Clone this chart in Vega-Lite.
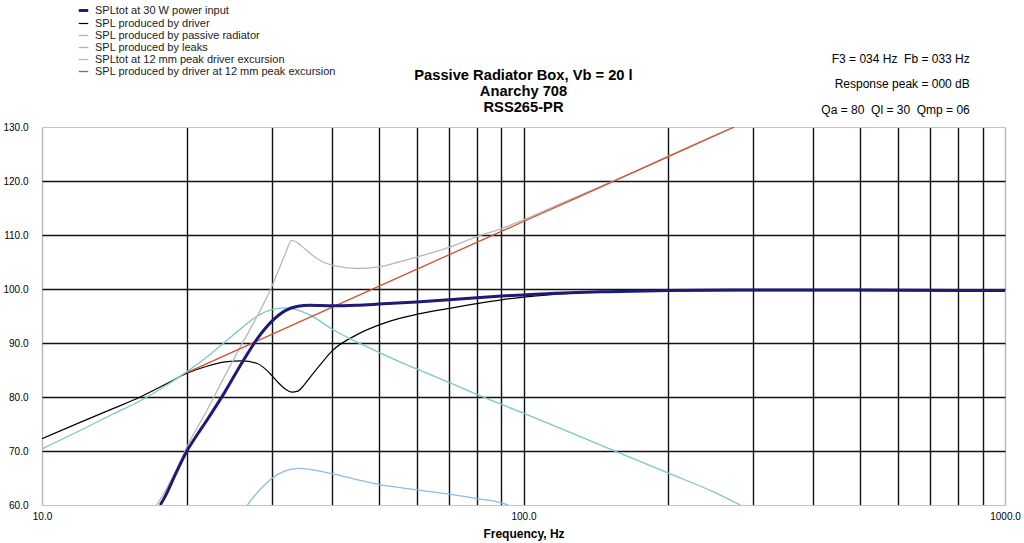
{
  "$schema": "https://vega.github.io/schema/vega-lite/v6.json",
  "width": 963,
  "height": 378,
  "autosize": {"type": "none"},
  "padding": {"left": 42, "top": 127, "right": 19, "bottom": 38},
  "background": "white",
  "config": {
    "font": "Liberation Sans",
    "view": {"stroke": "#b8b8b8", "strokeWidth": 1}
  },
  "data": {
    "values": [
      {"s": "SPL produced by driver", "f": 10, "db": 72.3},
      {"s": "SPL produced by driver", "f": 12, "db": 75.3},
      {"s": "SPL produced by driver", "f": 14, "db": 77.8},
      {"s": "SPL produced by driver", "f": 16, "db": 80},
      {"s": "SPL produced by driver", "f": 18, "db": 82.3},
      {"s": "SPL produced by driver", "f": 20, "db": 84.4},
      {"s": "SPL produced by driver", "f": 22, "db": 85.7},
      {"s": "SPL produced by driver", "f": 24, "db": 86.5},
      {"s": "SPL produced by driver", "f": 26, "db": 86.7},
      {"s": "SPL produced by driver", "f": 28, "db": 86.2},
      {"s": "SPL produced by driver", "f": 29, "db": 85.3},
      {"s": "SPL produced by driver", "f": 30, "db": 84},
      {"s": "SPL produced by driver", "f": 31, "db": 82.6},
      {"s": "SPL produced by driver", "f": 32, "db": 81.5},
      {"s": "SPL produced by driver", "f": 33, "db": 80.9},
      {"s": "SPL produced by driver", "f": 34, "db": 81.1},
      {"s": "SPL produced by driver", "f": 35, "db": 82.2},
      {"s": "SPL produced by driver", "f": 36, "db": 83.6},
      {"s": "SPL produced by driver", "f": 38, "db": 86.2},
      {"s": "SPL produced by driver", "f": 40, "db": 88.5},
      {"s": "SPL produced by driver", "f": 45, "db": 91.5},
      {"s": "SPL produced by driver", "f": 50, "db": 93.3},
      {"s": "SPL produced by driver", "f": 55, "db": 94.5},
      {"s": "SPL produced by driver", "f": 60, "db": 95.3},
      {"s": "SPL produced by driver", "f": 70, "db": 96.4},
      {"s": "SPL produced by driver", "f": 80, "db": 97.3},
      {"s": "SPL produced by driver", "f": 90, "db": 98},
      {"s": "SPL produced by driver", "f": 100, "db": 98.5},
      {"s": "SPL produced by driver", "f": 125, "db": 99.2},
      {"s": "SPL produced by driver", "f": 150, "db": 99.5},
      {"s": "SPL produced by driver", "f": 200, "db": 99.7},
      {"s": "SPL produced by driver", "f": 1000, "db": 99.7},

      {"s": "SPL produced by passive radiator", "f": 10, "db": 70.4},
      {"s": "SPL produced by passive radiator", "f": 12, "db": 73.8},
      {"s": "SPL produced by passive radiator", "f": 14, "db": 76.8},
      {"s": "SPL produced by passive radiator", "f": 16, "db": 79.3},
      {"s": "SPL produced by passive radiator", "f": 18, "db": 82},
      {"s": "SPL produced by passive radiator", "f": 20, "db": 84.7},
      {"s": "SPL produced by passive radiator", "f": 22, "db": 87.4},
      {"s": "SPL produced by passive radiator", "f": 24, "db": 90.2},
      {"s": "SPL produced by passive radiator", "f": 26, "db": 92.8},
      {"s": "SPL produced by passive radiator", "f": 28, "db": 95},
      {"s": "SPL produced by passive radiator", "f": 30, "db": 96.2},
      {"s": "SPL produced by passive radiator", "f": 32, "db": 96.5},
      {"s": "SPL produced by passive radiator", "f": 34, "db": 96.1},
      {"s": "SPL produced by passive radiator", "f": 36, "db": 95.2},
      {"s": "SPL produced by passive radiator", "f": 40, "db": 92.6},
      {"s": "SPL produced by passive radiator", "f": 45, "db": 90.2},
      {"s": "SPL produced by passive radiator", "f": 50, "db": 88.3},
      {"s": "SPL produced by passive radiator", "f": 55, "db": 86.6},
      {"s": "SPL produced by passive radiator", "f": 60, "db": 85.2},
      {"s": "SPL produced by passive radiator", "f": 70, "db": 82.7},
      {"s": "SPL produced by passive radiator", "f": 80, "db": 80.5},
      {"s": "SPL produced by passive radiator", "f": 100, "db": 77},
      {"s": "SPL produced by passive radiator", "f": 150, "db": 70.5},
      {"s": "SPL produced by passive radiator", "f": 200, "db": 65.9},
      {"s": "SPL produced by passive radiator", "f": 250, "db": 62.3},
      {"s": "SPL produced by passive radiator", "f": 282, "db": 60},

      {"s": "SPL produced by leaks", "f": 26.7, "db": 60},
      {"s": "SPL produced by leaks", "f": 28, "db": 62.3},
      {"s": "SPL produced by leaks", "f": 29, "db": 63.7},
      {"s": "SPL produced by leaks", "f": 30, "db": 64.9},
      {"s": "SPL produced by leaks", "f": 32, "db": 66.3},
      {"s": "SPL produced by leaks", "f": 34, "db": 66.8},
      {"s": "SPL produced by leaks", "f": 36, "db": 66.6},
      {"s": "SPL produced by leaks", "f": 40, "db": 65.8},
      {"s": "SPL produced by leaks", "f": 45, "db": 64.7},
      {"s": "SPL produced by leaks", "f": 50, "db": 63.8},
      {"s": "SPL produced by leaks", "f": 60, "db": 62.8},
      {"s": "SPL produced by leaks", "f": 70, "db": 62},
      {"s": "SPL produced by leaks", "f": 80, "db": 61.2},
      {"s": "SPL produced by leaks", "f": 90, "db": 60.4},
      {"s": "SPL produced by leaks", "f": 93, "db": 60},

      {"s": "SPLtot at 12 mm peak driver excursion", "f": 17.3, "db": 60},
      {"s": "SPLtot at 12 mm peak driver excursion", "f": 18, "db": 62.5},
      {"s": "SPLtot at 12 mm peak driver excursion", "f": 19, "db": 66.5},
      {"s": "SPLtot at 12 mm peak driver excursion", "f": 20, "db": 70.8},
      {"s": "SPLtot at 12 mm peak driver excursion", "f": 22, "db": 77.5},
      {"s": "SPLtot at 12 mm peak driver excursion", "f": 24, "db": 84},
      {"s": "SPLtot at 12 mm peak driver excursion", "f": 26, "db": 89.8},
      {"s": "SPLtot at 12 mm peak driver excursion", "f": 28, "db": 95},
      {"s": "SPLtot at 12 mm peak driver excursion", "f": 30, "db": 100.4},
      {"s": "SPLtot at 12 mm peak driver excursion", "f": 31, "db": 103.5},
      {"s": "SPLtot at 12 mm peak driver excursion", "f": 32, "db": 106.5},
      {"s": "SPLtot at 12 mm peak driver excursion", "f": 33, "db": 109},
      {"s": "SPLtot at 12 mm peak driver excursion", "f": 34, "db": 108.5},
      {"s": "SPLtot at 12 mm peak driver excursion", "f": 35, "db": 107.6},
      {"s": "SPLtot at 12 mm peak driver excursion", "f": 37, "db": 105.8},
      {"s": "SPLtot at 12 mm peak driver excursion", "f": 40, "db": 104.4},
      {"s": "SPLtot at 12 mm peak driver excursion", "f": 45, "db": 103.8},
      {"s": "SPLtot at 12 mm peak driver excursion", "f": 50, "db": 104.1},
      {"s": "SPLtot at 12 mm peak driver excursion", "f": 55, "db": 105},
      {"s": "SPLtot at 12 mm peak driver excursion", "f": 60, "db": 105.9},
      {"s": "SPLtot at 12 mm peak driver excursion", "f": 70, "db": 107.7},
      {"s": "SPLtot at 12 mm peak driver excursion", "f": 80, "db": 109.7},
      {"s": "SPLtot at 12 mm peak driver excursion", "f": 90, "db": 111.2},
      {"s": "SPLtot at 12 mm peak driver excursion", "f": 100, "db": 112.8},
      {"s": "SPLtot at 12 mm peak driver excursion", "f": 120, "db": 115.9},
      {"s": "SPLtot at 12 mm peak driver excursion", "f": 150, "db": 119.6},
      {"s": "SPLtot at 12 mm peak driver excursion", "f": 200, "db": 124.6},
      {"s": "SPLtot at 12 mm peak driver excursion", "f": 250, "db": 128.5},
      {"s": "SPLtot at 12 mm peak driver excursion", "f": 274, "db": 130},

      {"s": "SPL produced by driver at 12 mm peak excursion", "f": 20, "db": 84.5},
      {"s": "SPL produced by driver at 12 mm peak excursion", "f": 30, "db": 91.6},
      {"s": "SPL produced by driver at 12 mm peak excursion", "f": 50, "db": 100.5},
      {"s": "SPL produced by driver at 12 mm peak excursion", "f": 100, "db": 112.5},
      {"s": "SPL produced by driver at 12 mm peak excursion", "f": 200, "db": 124.5},
      {"s": "SPL produced by driver at 12 mm peak excursion", "f": 274, "db": 130},

      {"s": "SPLtot at 30 W power input", "f": 17.6, "db": 60},
      {"s": "SPLtot at 30 W power input", "f": 18, "db": 61.5},
      {"s": "SPLtot at 30 W power input", "f": 19, "db": 66},
      {"s": "SPLtot at 30 W power input", "f": 20, "db": 70},
      {"s": "SPLtot at 30 W power input", "f": 21, "db": 73},
      {"s": "SPLtot at 30 W power input", "f": 22, "db": 75.7},
      {"s": "SPLtot at 30 W power input", "f": 24, "db": 81},
      {"s": "SPLtot at 30 W power input", "f": 26, "db": 86.3},
      {"s": "SPLtot at 30 W power input", "f": 28, "db": 90.8},
      {"s": "SPLtot at 30 W power input", "f": 30, "db": 94},
      {"s": "SPLtot at 30 W power input", "f": 32, "db": 96},
      {"s": "SPLtot at 30 W power input", "f": 34, "db": 96.8},
      {"s": "SPLtot at 30 W power input", "f": 36, "db": 97},
      {"s": "SPLtot at 30 W power input", "f": 40, "db": 96.9},
      {"s": "SPLtot at 30 W power input", "f": 45, "db": 97},
      {"s": "SPLtot at 30 W power input", "f": 50, "db": 97.2},
      {"s": "SPLtot at 30 W power input", "f": 60, "db": 97.6},
      {"s": "SPLtot at 30 W power input", "f": 70, "db": 98},
      {"s": "SPLtot at 30 W power input", "f": 80, "db": 98.4},
      {"s": "SPLtot at 30 W power input", "f": 90, "db": 98.7},
      {"s": "SPLtot at 30 W power input", "f": 100, "db": 98.9},
      {"s": "SPLtot at 30 W power input", "f": 125, "db": 99.3},
      {"s": "SPLtot at 30 W power input", "f": 150, "db": 99.5},
      {"s": "SPLtot at 30 W power input", "f": 200, "db": 99.7},
      {"s": "SPLtot at 30 W power input", "f": 300, "db": 99.8},
      {"s": "SPLtot at 30 W power input", "f": 500, "db": 99.8},
      {"s": "SPLtot at 30 W power input", "f": 1000, "db": 99.7}
    ]
  },
  "layer": [
    {
      "mark": {"type": "line", "interpolate": "monotone", "clip": true},
      "encoding": {
        "x": {
          "field": "f",
          "type": "quantitative",
          "scale": {"type": "log", "domain": [10, 1000], "nice": false},
          "axis": {
            "values": [10, 20, 30, 40, 50, 60, 70, 80, 90, 100, 200, 300, 400, 500, 600, 700, 800, 900, 1000],
            "labelExpr": "datum.value == 10 || datum.value == 100 || datum.value == 1000 ? format(datum.value, '.1f') : ''",
            "ticks": false,
            "domain": false,
            "labelPadding": 6,
            "labelFontSize": 10,
            "labelColor": "black",
            "labelFlush": false,
            "grid": true,
            "gridColor": {"condition": {"test": "datum.value == 10 || datum.value == 1000", "value": "#b8b8b8"}, "value": "#111111"},
            "gridWidth": 1.4,
            "title": "Frequency, Hz",
            "titleFontSize": 12,
            "titleFontWeight": "bold",
            "titleColor": "black",
            "titlePadding": 7
          }
        },
        "y": {
          "field": "db",
          "type": "quantitative",
          "scale": {"domain": [60, 130], "nice": false, "zero": false},
          "axis": {
            "values": [60, 65, 70, 75, 80, 85, 90, 95, 100, 105, 110, 115, 120, 125, 130],
            "labelExpr": "datum.value % 10 === 0 ? format(datum.value, '.1f') : ''",
            "ticks": false,
            "domain": false,
            "labelPadding": 14,
            "labelFontSize": 10,
            "labelColor": "black",
            "labelFlush": false,
            "grid": true,
            "gridColor": {"condition": {"test": "datum.value % 10 === 0 && datum.value != 60 && datum.value != 130", "value": "#111111"}, "value": "#c4c4c4"},
            "gridWidth": {"condition": {"test": "datum.value % 10 === 0 && datum.value != 60 && datum.value != 130", "value": 1.4}, "value": 1.2},
            "title": null
          }
        },
        "color": {
          "field": "s",
          "type": "nominal",
          "scale": {
            "domain": [
              "SPLtot at 30 W power input",
              "SPL produced by driver",
              "SPL produced by passive radiator",
              "SPL produced by leaks",
              "SPLtot at 12 mm peak driver excursion",
              "SPL produced by driver at 12 mm peak excursion"
            ],
            "range": ["#1e1a78", "#000000", "#7fc5cb", "#8cbce4", "#b8b8b8", "#d4502c"]
          },
          "legend": {
            "title": null,
            "orient": "none",
            "legendX": 35,
            "legendY": -123,
            "padding": 0,
            "symbolType": "stroke",
            "symbolSize": 90,
            "labelFontSize": 11,
            "labelColor": "#222222",
            "labelOffset": 5,
            "rowPadding": 0,
            "labelLimit": 400
          }
        },
        "strokeWidth": {
          "field": "s",
          "type": "nominal",
          "scale": {
            "type": "ordinal",
            "domain": [
              "SPLtot at 30 W power input",
              "SPL produced by driver",
              "SPL produced by passive radiator",
              "SPL produced by leaks",
              "SPLtot at 12 mm peak driver excursion",
              "SPL produced by driver at 12 mm peak excursion"
            ],
            "range": [3, 1.2, 1.3, 1.3, 1.3, 1.3]
          },
          "legend": null
        },
        "order": {"field": "f", "type": "quantitative"}
      }
    },
    {
      "data": {"values": [{"note": ["Passive Radiator Box, Vb = 20 l", "Anarchy 708", "RSS265-PR"]}]},
      "mark": {
        "type": "text",
        "align": "center",
        "baseline": "middle",
        "fontSize": 14.7,
        "fontWeight": "bold",
        "lineHeight": 16,
        "color": "black",
        "clip": false
      },
      "encoding": {
        "x": {"datum": 100, "type": "quantitative"},
        "y": {"datum": 139.4, "type": "quantitative"},
        "text": {"field": "note"}
      }
    },
    {
      "data": {"values": [{"note": ["F3 = 034 Hz\u00a0 Fb = 033 Hz", "Response peak = 000 dB", "Qa = 80\u00a0 Ql = 30\u00a0 Qmp = 06"]}]},
      "mark": {
        "type": "text",
        "align": "right",
        "baseline": "middle",
        "fontSize": 12,
        "lineHeight": 25.5,
        "color": "black",
        "clip": false
      },
      "encoding": {
        "x": {"datum": 845, "type": "quantitative"},
        "y": {"datum": 142.6, "type": "quantitative"},
        "text": {"field": "note"}
      }
    }
  ]
}
